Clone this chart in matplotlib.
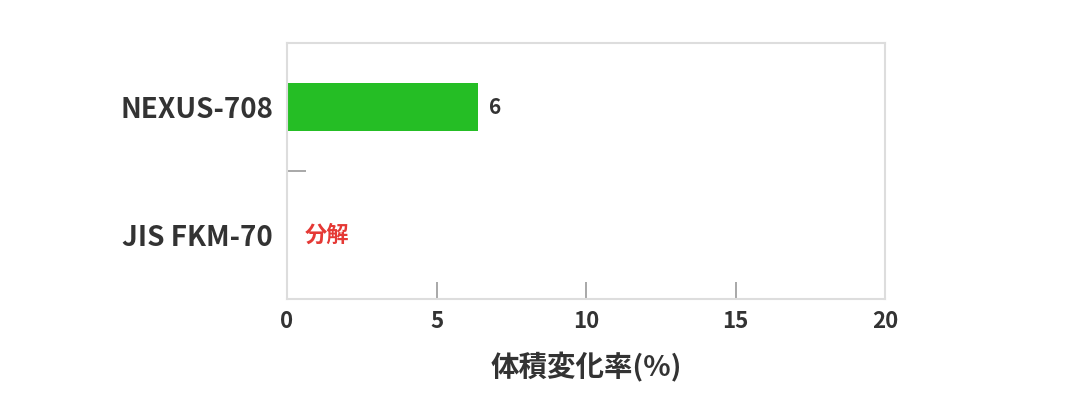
import matplotlib
matplotlib.use("Agg")
import matplotlib.pyplot as plt
from matplotlib.ticker import FixedLocator

plt.rcParams["font.family"] = ["Noto Sans CJK JP", "DejaVu Sans"]

categories = ["NEXUS-708", "JIS FKM-70"]
values = [6.4, None]          # None = decomposed, no bar
bar_labels = ["6", "分解"]
x_ticks = [0, 5, 10, 15, 20]

TEXT = "#333333"
GREEN = "#25be25"
RED = "#e53935"
FRAME = "#dddddd"
TICK = "#999999"

fig = plt.figure(figsize=(10.7, 4.0), dpi=100)
ax = fig.add_axes([287 / 1070, 101 / 400, 598 / 1070, 256 / 400])

ypos = list(range(len(categories)))
for y, v, lab in zip(ypos, values, bar_labels):
    if v is None:
        ax.text(0.6, y, lab, color=RED, fontsize=16, fontweight="bold",
                va="center", ha="left")
    else:
        ax.barh(y, v, height=0.38, color=GREEN)
        ax.text(v + 0.35, y, lab, color=TEXT, fontsize=15, fontweight="bold",
                va="center", ha="left")

ax.set_xlim(0, 20)
ax.set_ylim(1.5, -0.5)
ax.set_xticks(x_ticks)
ax.set_xticklabels([str(t) for t in x_ticks])
ax.set_yticks(ypos)
ax.set_yticklabels(categories)
ax.yaxis.set_minor_locator(FixedLocator([0.5]))

ax.tick_params(axis="x", direction="in", length=12, width=1.2, color=TICK,
               labelsize=16, labelcolor=TEXT, pad=8)
ax.tick_params(axis="y", which="major", length=0, labelsize=20,
               labelcolor=TEXT, pad=10)
ax.tick_params(axis="y", which="minor", direction="in", length=13.5,
               width=1.2, color=TICK)
for lab in ax.get_xticklabels() + ax.get_yticklabels():
    lab.set_fontweight("bold")

for sp in ax.spines.values():
    sp.set_color(FRAME)
    sp.set_linewidth(1.5)

ax.set_xlabel("体積変化率(%)", fontsize=20.5, fontweight="bold", color=TEXT,
              labelpad=14)

fig.savefig("out.png", dpi=100)
